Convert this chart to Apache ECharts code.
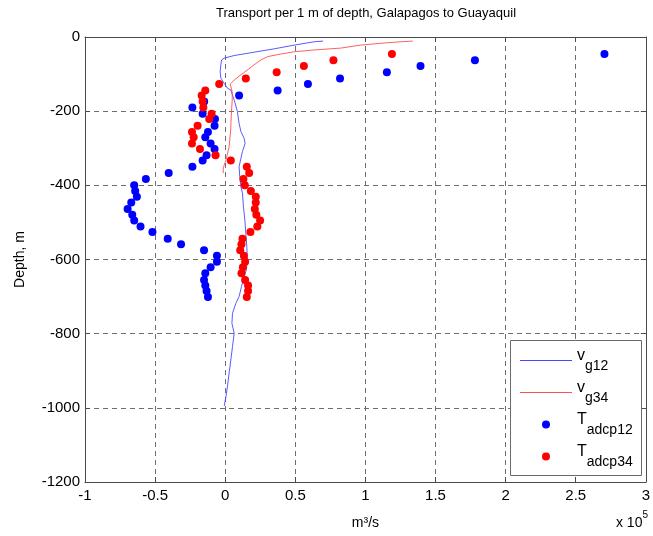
<!DOCTYPE html>
<html>
<head>
<meta charset="utf-8">
<script src="https://cdn.jsdelivr.net/npm/echarts@6/dist/echarts.min.js"></script>
<style>
  html, body { margin: 0; padding: 0; background: #fff; }
  #chart { width: 653px; height: 536px; }
</style>
</head>
<body>
<div id="chart"></div>
<script>
// Transport per 1 m of depth (units of 1e5 m^3/s) against depth (m)

// Geostrophic transport, stations 1-2
const vg12Depth = [-11, -13, -22, -32, -41, -50, -57, -62, -75, -94,
  -111, -125, -138, -143, -170, -201, -233, -255, -273, -287,
  -309, -327, -350, -377, -404, -421, -457, -493, -529, -565,
  -601, -628, -646, -673, -700, -718, -745, -772, -799, -835,
  -871, -906, -943, -970, -995];
const vg12 = [0.698, 0.632, 0.490, 0.348, 0.206, 0.064, -0.007, -0.026, -0.031, -0.036,
  -0.031, -0.007, 0.016, 0.040, 0.064, 0.087, 0.099, 0.112, 0.135, 0.142,
  0.123, 0.112, 0.099, 0.104, 0.112, 0.123, 0.130, 0.140, 0.147, 0.154,
  0.158, 0.151, 0.135, 0.116, 0.099, 0.076, 0.052, 0.048, 0.064, 0.052,
  0.040, 0.028, 0.016, 0.005, -0.007];

// Geostrophic transport, stations 3-4
const vg34Depth = [-11, -13, -17, -22, -30, -35, -40, -46, -53, -62,
  -75, -89, -102, -116, -127, -148, -170, -213, -251, -296,
  -332, -353, -367];
const vg34 = [1.338, 1.248, 1.106, 0.964, 0.822, 0.632, 0.490, 0.396, 0.301, 0.254,
  0.206, 0.158, 0.112, 0.064, 0.036, 0.050, 0.050, 0.043, 0.039, 0.028,
  0.005, -0.014, -0.014];

// ADCP bin depths and transports
const adcpDepth = [-46, -63, -78, -95, -112, -127, -144, -158, -174, -190,
  -207, -221, -239, -256, -270, -287, -302, -319, -333, -350,
  -367, -383, -400, -415, -431, -446, -464, -479, -495, -511,
  -526, -544, -559, -575, -590, -606, -621, -637, -655, -670,
  -685, -701];
const tAdcp12 = [2.705, 1.781, 1.393, 1.153, 0.819, 0.590, 0.374, 0.099, -0.150, -0.234,
  -0.161, -0.073, -0.076, -0.123, -0.142, -0.104, -0.076, -0.133, -0.161, -0.234,
  -0.403, -0.566, -0.649, -0.642, -0.630, -0.670, -0.696, -0.663, -0.649, -0.604,
  -0.519, -0.410, -0.315, -0.151, -0.059, -0.059, -0.104, -0.142, -0.151, -0.142,
  -0.133, -0.123];
const tAdcp34 = [1.189, 0.772, 0.561, 0.367, 0.147, -0.043, -0.142, -0.168, -0.161, -0.156,
  -0.097, -0.114, -0.197, -0.237, -0.225, -0.237, -0.180, -0.069, 0.040, 0.154,
  0.171, 0.130, 0.140, 0.183, 0.218, 0.218, 0.211, 0.222, 0.249, 0.229,
  0.180, 0.123, 0.116, 0.107, 0.133, 0.142, 0.126, 0.116, 0.142, 0.163,
  0.163, 0.154];

const seriesNames = ['v_g12', 'v_g34', 'T_adcp12', 'T_adcp34'];

const FONT = '"Liberation Sans", Arial, sans-serif';
const AXIS = '#4a4a4a';
const GRID_LINE = { color: '#6e6e6e', width: 1, type: [5, 4] };
const LINE_ICON = 'path://M0,0 L52,0 L52,1 L0,1 Z';

const pairs = (xs, ys) => xs.map((x, i) => [x, ys[i]]);

const chart = echarts.init(document.getElementById('chart'), null, { renderer: 'canvas' });

const boxAxis = {
  type: 'value',
  axisLine: { show: true, onZero: false, lineStyle: { color: AXIS, width: 1 } },
  axisTick: { show: true, inside: true, length: 5, lineStyle: { color: AXIS } },
  axisLabel: { show: false },
  splitLine: { show: false }
};

chart.setOption({
  animation: false,
  backgroundColor: '#fff',
  textStyle: { fontFamily: FONT },
  grid: { left: 85, right: 5, top: 37, bottom: 54, containLabel: false },
  xAxis: [
    {
      type: 'value', position: 'bottom', min: -1, max: 3, interval: 0.5,
      axisLine: { show: true, onZero: false, lineStyle: { color: AXIS, width: 1 } },
      axisTick: { show: true, inside: true, length: 5, lineStyle: { color: AXIS } },
      axisLabel: { color: '#000', fontSize: 15, margin: 6, showMinLabel: true, showMaxLabel: true,
        formatter: v => String(v) },
      splitLine: { show: true, lineStyle: GRID_LINE },
      name: 'm³/s', nameLocation: 'middle', nameGap: 34,
      nameTextStyle: { color: '#000', fontSize: 14 }
    },
    Object.assign({ position: 'top', min: -1, max: 3, interval: 0.5 }, boxAxis)
  ],
  yAxis: [
    {
      type: 'value', position: 'left', min: -1200, max: 0, interval: 200,
      axisLine: { show: true, onZero: false, lineStyle: { color: AXIS, width: 1 } },
      axisTick: { show: true, inside: true, length: 5, lineStyle: { color: AXIS } },
      axisLabel: { color: '#000', fontSize: 15, margin: 5, showMinLabel: true, showMaxLabel: true,
        formatter: v => String(v) },
      splitLine: { show: true, lineStyle: GRID_LINE },
      name: 'Depth, m', nameLocation: 'middle', nameGap: 58, nameRotate: 90,
      nameTextStyle: { color: '#000', fontSize: 14 }
    },
    Object.assign({ position: 'right', min: -1200, max: 0, interval: 200 }, boxAxis)
  ],
  legend: {
    orient: 'vertical', left: 520, top: 348, padding: 0,
    itemWidth: 52, itemHeight: 8, itemGap: 7,
    data: [
      { name: seriesNames[0], icon: LINE_ICON },
      { name: seriesNames[1], icon: LINE_ICON },
      { name: seriesNames[2], icon: 'circle' },
      { name: seriesNames[3], icon: 'circle' }
    ],
    formatter: name => {
      const [main, sub] = name.split('_');
      return '{m|' + main + '}{s|' + sub + '}';
    },
    textStyle: {
      rich: {
        m: { fontSize: 16, color: '#000', fontFamily: FONT, verticalAlign: 'top' },
        s: { fontSize: 14, color: '#000', fontFamily: FONT, verticalAlign: 'top', padding: [11, 0, 0, 0] }
      }
    }
  },
  graphic: [
    {
      type: 'rect', z: 3, silent: true,
      shape: { x: 510.5, y: 340.5, width: 131, height: 135 },
      style: { fill: '#fff', stroke: '#6a6a6a', lineWidth: 1 }
    },
    {
      type: 'text', x: 366, y: 13, silent: true,
      style: {
        text: 'Transport per 1 m of depth, Galapagos to Guayaquil',
        font: '13px ' + FONT, fill: '#000', align: 'center', verticalAlign: 'middle'
      }
    },
    {
      type: 'text', x: 648, y: 510, silent: true,
      style: {
        text: '{a|x 10}{b|5}', align: 'right', verticalAlign: 'top',
        rich: {
          a: { fontSize: 14, fontFamily: FONT, fill: '#000', verticalAlign: 'top', padding: [6, 0, 0, 0] },
          b: { fontSize: 10, fontFamily: FONT, fill: '#000', verticalAlign: 'top' }
        }
      }
    }
  ],
  series: [
    {
      name: 'v_g12', type: 'line', data: pairs(vg12, vg12Depth),
      symbol: 'none', color: '#4747ff', lineStyle: { width: 0.9, color: '#4747ff' }, z: 2
    },
    {
      name: 'v_g34', type: 'line', data: pairs(vg34, vg34Depth),
      symbol: 'none', color: '#ff4f4f', lineStyle: { width: 0.9, color: '#ff4f4f' }, z: 2
    },
    {
      name: 'T_adcp12', type: 'scatter', data: pairs(tAdcp12, adcpDepth),
      symbol: 'circle', symbolSize: 8, itemStyle: { color: '#0000ff', opacity: 1 }, z: 3
    },
    {
      name: 'T_adcp34', type: 'scatter', data: pairs(tAdcp34, adcpDepth),
      symbol: 'circle', symbolSize: 8, itemStyle: { color: '#ff0000', opacity: 1 }, z: 3
    }
  ]
});
</script>
</body>
</html>
